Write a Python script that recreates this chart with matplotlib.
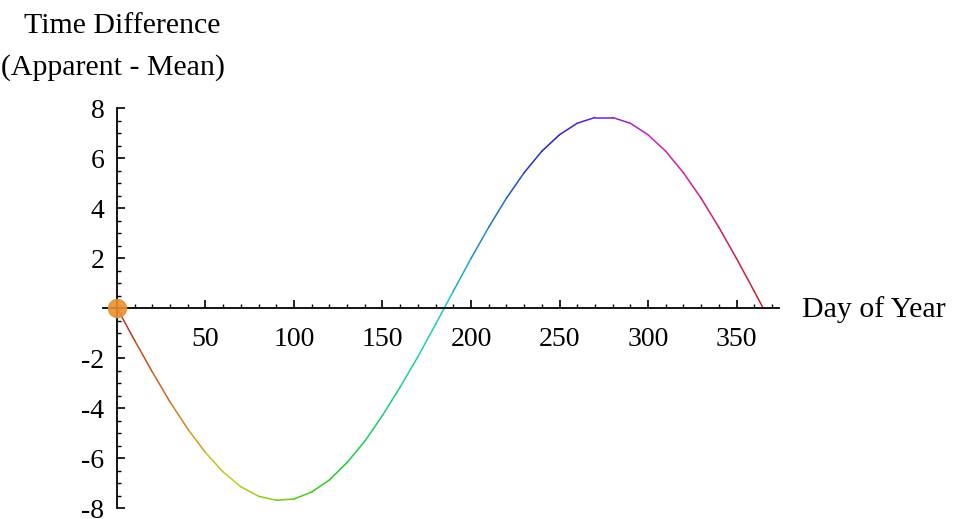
import numpy as np
import matplotlib
matplotlib.use('Agg')
import matplotlib.pyplot as plt
from matplotlib.collections import LineCollection
from matplotlib.colors import hsv_to_rgb

plt.rcParams['font.family'] = 'Liberation Serif'
plt.rcParams['axes.unicode_minus'] = False

# day of year vs. time difference (apparent - mean)
days = [0, 10, 20, 30, 40, 50, 60, 70, 80, 90, 100, 110, 120, 130, 140, 150, 160, 170, 180,
        190, 200, 210, 220, 230, 240, 250, 260, 270, 280, 290, 300, 310, 320, 330, 340, 350, 360, 365]
diff = [0.0, -1.30, -2.56, -3.76, -4.84, -5.78, -6.56, -7.15, -7.53, -7.69, -7.64, -7.36, -6.88,
        -6.18, -5.33, -4.30, -3.16, -1.95, -0.65, 0.67, 1.98, 3.23, 4.39, 5.41, 6.27, 6.93, 7.39,
        7.62, 7.62, 7.39, 6.93, 6.27, 5.41, 4.39, 3.23, 1.98, 0.67, 0.0]
x_ticks = [50, 100, 150, 200, 250, 300, 350]
y_ticks = [-8, -6, -4, -2, 2, 4, 6, 8]

W, H = 957, 519
fig = plt.figure(figsize=(W / 100, H / 100), dpi=100)
ax = fig.add_axes([102.8 / W, 11 / H, (779 - 102.8) / W, 400 / H])
ax.set_xlim(-8, 374)
ax.set_ylim(-8, 8)

# curve coloured by hue along the year
x = np.array(days, dtype=float)
y = np.array(diff)
pts = np.column_stack([x, y]).reshape(-1, 1, 2)
segs = np.concatenate([pts[:-1], pts[1:]], axis=1)
mid = (x[:-1] + x[1:]) / 2 / 365.0
cols = [hsv_to_rgb((m % 1.0, 0.85, 0.8)) for m in mid]
lc = LineCollection(segs, colors=cols, linewidths=1.1, capstyle='round', joinstyle='round')
ax.add_collection(lc)

ax.plot([0], [0], 'o', ms=13, color='#e8902e', alpha=0.9, zorder=5, clip_on=False)

for s in ['top', 'right']:
    ax.spines[s].set_visible(False)
ax.spines['left'].set_position(('data', 0))
ax.spines['bottom'].set_position(('data', 0))
ax.spines['left'].set_linewidth(1.3)
ax.spines['bottom'].set_linewidth(1.3)

ax.set_xticks(x_ticks)
ax.set_xticks(np.arange(10, 371, 10), minor=True)
ax.set_yticks(y_ticks)
ax.set_yticks(np.arange(-8, 8.01, 0.5), minor=True)
ax.tick_params(which='major', direction='in', length=6, width=1.2, labelsize=20)
ax.tick_params(which='minor', direction='in', length=3, width=1.0)
ax.tick_params(axis='x', which='major', pad=14)
ax.tick_params(axis='y', which='major', pad=9)

fig.text(24 / W, 1 - 33 / H, 'Time Difference', fontsize=21.5, va='baseline', ha='left')
fig.text(1 / W, 1 - 75 / H, '(Apparent - Mean)', fontsize=21.5, va='baseline', ha='left')
fig.text(802 / W, 1 - 317 / H, 'Day of Year', fontsize=21.5, va='baseline', ha='left')

fig.savefig('out.png', dpi=100)
